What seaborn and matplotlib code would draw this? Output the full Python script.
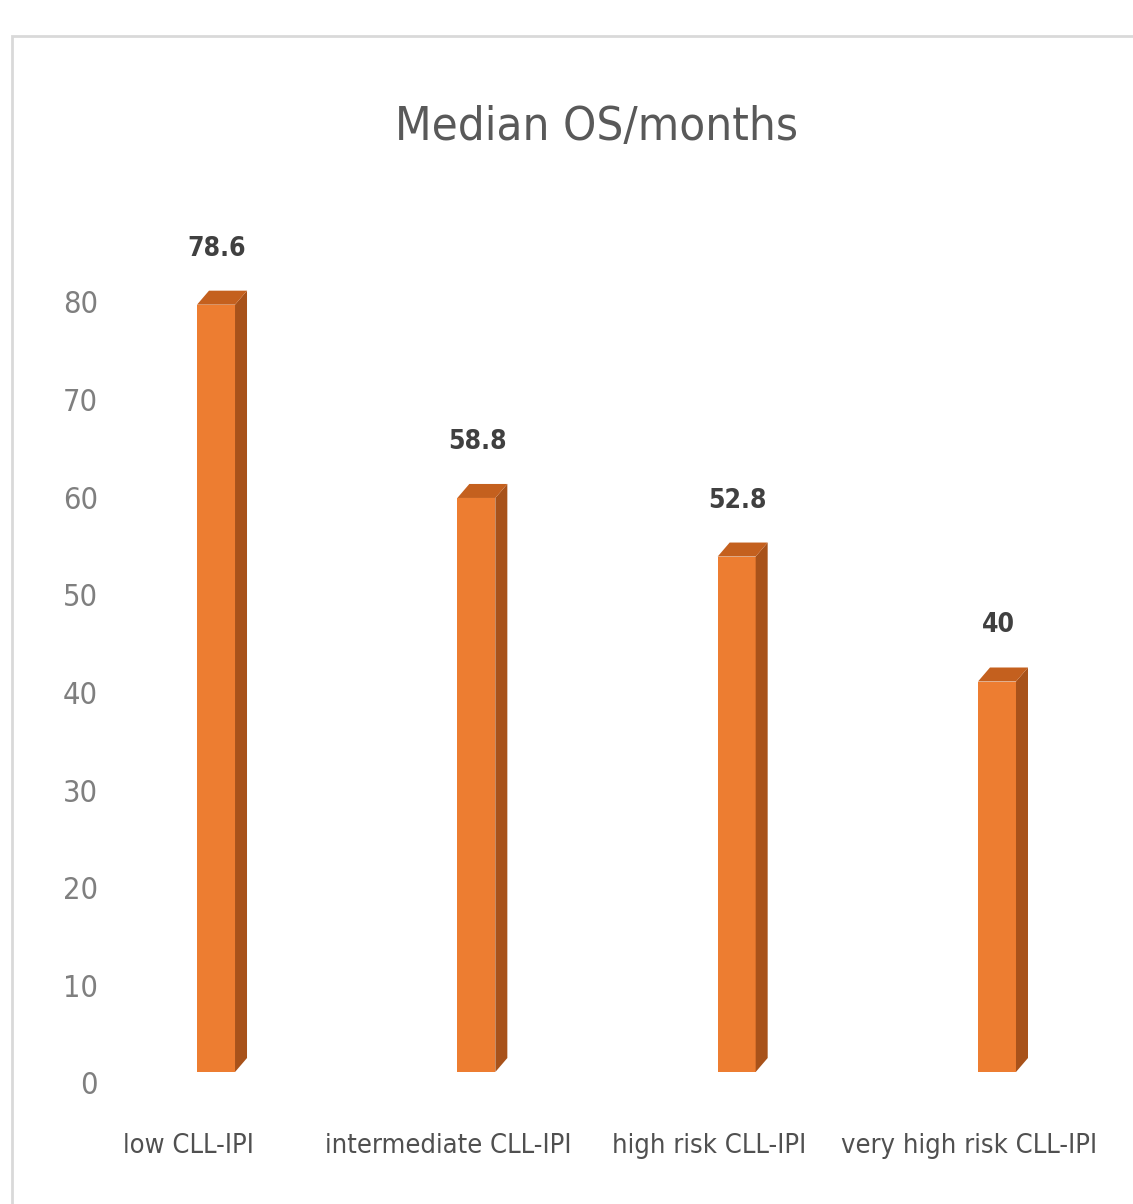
import numpy as np
import pandas as pd
import matplotlib
matplotlib.use("Agg")
import matplotlib.pyplot as plt
from matplotlib.patches import Polygon, Rectangle
from matplotlib.transforms import ScaledTranslation
from matplotlib import font_manager as fm
import seaborn as sns

# ---- data ----
categories = ["low CLL-IPI", "intermediate CLL-IPI", "high risk CLL-IPI", "very high risk CLL-IPI"]
values = [78.6, 58.8, 52.8, 40]
value_labels = ["78.6", "58.8", "52.8", "40"]
title = "Median OS/months"
yticks = [0, 10, 20, 30, 40, 50, 60, 70, 80]

sns.set_theme(style="white")

# pick a condensed sans face if one is installed
cond = ("condensed", "semi-condensed", "extra-condensed", "ultra-condensed")
def pick(bold):
    best = None
    for f in fm.fontManager.ttflist:
        if "Serif" in f.name or "Mono" in f.name:
            continue
        w = f.weight if isinstance(f.weight, int) else (700 if "bold" in str(f.weight) else 400)
        if f.style != "normal":
            continue
        if bold and w < 600:
            continue
        if not bold and w not in (400, 500):
            continue
        if f.stretch in cond or "Narrow" in f.name or "Condensed" in f.name:
            if best is None or f.name == "DejaVu Sans" or f.name.startswith("Liberation"):
                best = f
    return best

reg, bld = pick(False), pick(True)
if reg is not None:
    FP = fm.FontProperties(fname=reg.fname)
    FPB = fm.FontProperties(fname=(bld or reg).fname)
    fam_name = reg.name
else:
    FP = fm.FontProperties(family="Roboto")
    FPB = fm.FontProperties(family="Roboto", weight="bold")
    fam_name = "Roboto"
plt.rcParams["font.family"] = [fam_name, "DejaVu Sans"]

W, H, DPI = 1133, 1204, 100
fig = plt.figure(figsize=(W / DPI, H / DPI), dpi=DPI)
fig.patch.set_facecolor("white")

fig.patches.append(Rectangle((12 / W, -0.1), 1.2, 1 - 36 / H + 0.1, transform=fig.transFigure,
                             fill=False, edgecolor="#d9d9d9", linewidth=2))

L, R = 105, 1100
zero_px, top_px = 1083, 1083 - 90 * 9.7625
ax = fig.add_axes([L / W, (H - zero_px) / H, (R - L) / W, (zero_px - top_px) / H])
ax.set_facecolor("none")

df = pd.DataFrame({"cat": categories, "val": values})
sns.barplot(data=df, x="cat", y="val", color="#ED7D31", saturation=1, width=0.146, ax=ax)

spacing = 260.3
ax.set_xlim(-(216 - L) / spacing, 3 + (R - 997) / spacing)
ax.set_ylim(0, 90)
ax.set_yticks(yticks)
ax.set_yticklabels([str(t) for t in yticks])
ax.set_xticks(np.arange(len(categories)) - 28 / spacing)
ax.set_xticklabels(categories)
ax.set_xlabel("")
ax.set_ylabel("")
for s in ax.spines.values():
    s.set_visible(False)
ax.tick_params(axis="y", length=0, pad=5, labelcolor="#7f7f7f")
ax.tick_params(axis="x", length=0, pad=36, labelcolor="#505050")
for t in ax.get_yticklabels():
    t.set_fontproperties(FP)
    t.set_fontsize(22)
for t in ax.get_xticklabels():
    t.set_fontproperties(FP)
    t.set_fontsize(19.5)

# 3D-style faces
raise_px, dx_px, dy_px = 11, 12, 14
off = ScaledTranslation(0, raise_px / DPI, fig.dpi_scale_trans)
inv = ax.transData.inverted()
p0 = inv.transform((0, 0))
p1 = inv.transform((dx_px, dy_px))
ddx, ddy = p1[0] - p0[0], p1[1] - p0[1]
for bar in list(ax.patches):
    x0 = bar.get_x()
    w = bar.get_width()
    h = bar.get_height()
    bar.set_transform(ax.transData + off)
    bar.set_edgecolor("none")
    x1 = x0 + w
    side = Polygon([(x1, 0), (x1, h), (x1 + ddx, h + ddy), (x1 + ddx, ddy)], closed=True,
                   facecolor="#A8521A", edgecolor="none", transform=ax.transData + off)
    top = Polygon([(x0, h), (x1, h), (x1 + ddx, h + ddy), (x0 + ddx, h + ddy)], closed=True,
                  facecolor="#C4601E", edgecolor="none", transform=ax.transData + off)
    ax.add_patch(side)
    ax.add_patch(top)

for i, (v, lab) in enumerate(zip(values, value_labels)):
    ax.annotate(lab, (i, v), xytext=(1, raise_px + 56), textcoords="offset pixels",
                ha="center", va="center", fontproperties=FPB, fontsize=19, color="#404040")

fig.text(597 / W, 1 - 128 / H, title, ha="center", va="center", fontproperties=FP,
         fontsize=34, color="#595959")

fig.savefig("out.png", dpi=DPI)
